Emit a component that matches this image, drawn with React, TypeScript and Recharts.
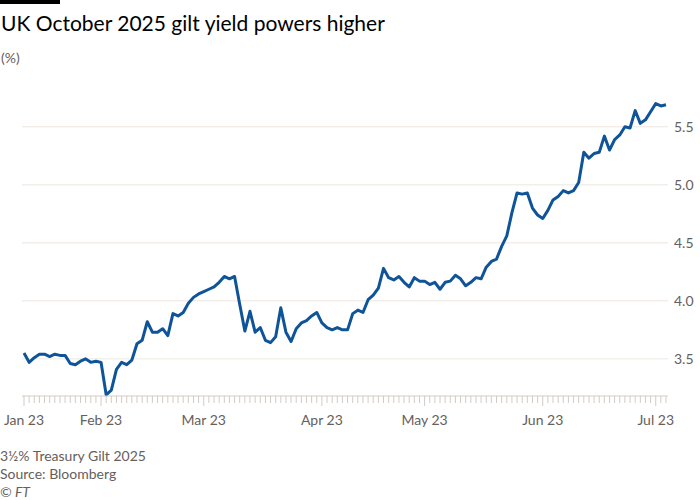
import { LineChart, Line, XAxis, YAxis, CartesianGrid } from 'recharts';

// trading days per month (UK gilt market, 2023)
const monthLabels = ['Jan 23', 'Feb 23', 'Mar 23', 'Apr 23', 'May 23', 'Jun 23', 'Jul 23'];

const tradingDays = [
  [11, 12, 13, 16, 17, 18, 19, 20, 23, 24, 25, 26, 27, 30, 31],
  [1, 2, 3, 6, 7, 8, 9, 10, 13, 14, 15, 16, 17, 20, 21, 22, 23, 24, 27, 28],
  [1, 2, 3, 6, 7, 8, 9, 10, 13, 14, 15, 16, 17, 20, 21, 22, 23, 24, 27, 28, 29, 30, 31],
  [3, 4, 5, 6, 7, 10, 11, 12, 13, 14, 17, 18, 19, 20, 21, 24, 25, 26, 27, 28],
  [1, 2, 3, 4, 5, 8, 9, 10, 11, 12, 15, 16, 17, 18, 19, 22, 23, 24, 25, 26, 29, 30, 31],
  [1, 2, 5, 6, 7, 8, 9, 12, 13, 14, 15, 16, 19, 20, 21, 22, 23, 26, 27, 28, 29, 30],
  [3, 4, 5],
];

// yield (%) per trading day, same shape as tradingDays
const yields = [
  [3.55, 3.47, 3.51, 3.54, 3.54, 3.52, 3.54, 3.53, 3.53, 3.46, 3.45, 3.48, 3.5, 3.47, 3.48],
  [3.47, 3.19, 3.23, 3.41, 3.47, 3.45, 3.49, 3.63, 3.66, 3.82, 3.73, 3.73, 3.76, 3.7, 3.89, 3.87, 3.9, 3.98, 4.03, 4.06],
  [4.08, 4.1, 4.12, 4.16, 4.21, 4.19, 4.21, 3.97, 3.74, 3.91, 3.73, 3.77, 3.66, 3.64, 3.69, 3.94, 3.73, 3.65, 3.76, 3.81, 3.83, 3.87, 3.9],
  [3.81, 3.77, 3.75, 3.77, 3.75, 3.75, 3.89, 3.92, 3.9, 4.01, 4.05, 4.11, 4.28, 4.2, 4.18, 4.21, 4.16, 4.12, 4.2, 4.17],
  [4.17, 4.14, 4.16, 4.1, 4.16, 4.17, 4.22, 4.19, 4.13, 4.16, 4.2, 4.19, 4.29, 4.34, 4.36, 4.47, 4.56, 4.76, 4.93, 4.92, 4.93, 4.8, 4.74],
  [4.71, 4.78, 4.87, 4.9, 4.95, 4.93, 4.95, 5.02, 5.28, 5.23, 5.27, 5.28, 5.42, 5.3, 5.39, 5.43, 5.5, 5.49, 5.64, 5.53, 5.56, 5.63],
  [5.7, 5.68, 5.69],
];

const yTicks = [3.5, 4, 4.5, 5, 5.5];

const data = tradingDays.flatMap((days, m) =>
  days.map((d, i) => ({
    date: `${m + 1}-${d}`,
    label: i === 0 ? monthLabels[m] : '',
    value: yields[m][i],
  }))
);

const labelByDate: Record<string, string> = {};
data.forEach((row) => {
  labelByDate[row.date] = row.label;
});

const grey = '#66605c';
const font = 'Lato, "Open Sans", sans-serif';

function DayTick(props: any) {
  const { x, y, payload } = props;
  const label = labelByDate[payload.value];
  return (
    <g>
      <line x1={x} x2={x} y1={y} y2={y + (label ? 10 : 7)} stroke="#d4cbc3" strokeWidth={1} />
      {label && (
        <text x={x} y={y + 29} textAnchor="middle" fill={grey} fontSize={14} fontFamily={font}>
          {label}
        </text>
      )}
    </g>
  );
}

export default function App() {
  return (
    <div style={{ position: 'absolute', left: 0, top: 0, width: 700, height: 500, background: '#fff', fontFamily: font }}>
      <div style={{ position: 'absolute', left: 0, top: 0, width: 60, height: 4, background: '#000' }} />
      <div style={{ position: 'absolute', left: 1, top: 10, fontSize: 21, lineHeight: '25px', color: '#000', whiteSpace: 'nowrap' }}>
        UK October 2025 gilt yield powers higher
      </div>
      <div style={{ position: 'absolute', left: 1, top: 49, fontSize: 14, lineHeight: '17px', color: grey }}>(%)</div>

      <div style={{ position: 'absolute', left: 0, top: 0 }}>
        <LineChart width={700} height={440} data={data} margin={{ top: 92, right: 0, bottom: 0, left: 22 }}>
          <CartesianGrid vertical={false} horizontalValues={yTicks} stroke="#ede6df" />
          <XAxis
            dataKey="date"
            interval={0}
            height={44}
            padding={{ left: 2, right: 2 }}
            tickSize={0}
            tickMargin={0}
            tickLine={false}
            axisLine={{ stroke: '#d4cbc3' }}
            tick={<DayTick />}
          />
          <YAxis
            orientation="right"
            width={32}
            domain={[3.18, 5.8]}
            ticks={yTicks}
            tickFormatter={(v: number) => v.toFixed(1)}
            axisLine={false}
            tickLine={false}
            tickSize={0}
            tickMargin={6}
            tick={{ fill: grey, fontSize: 14, fontFamily: font, textAnchor: 'start' }}
          />
          <Line
            type="linear"
            dataKey="value"
            stroke="#0f5499"
            strokeWidth={3}
            strokeLinejoin="round"
            dot={false}
            isAnimationActive={false}
          />
        </LineChart>
      </div>

      <div style={{ position: 'absolute', left: 0, top: 447, fontSize: 14, lineHeight: '18px', color: grey }}>
        <div>3½% Treasury Gilt 2025</div>
        <div>Source: Bloomberg</div>
        <div style={{ fontStyle: 'italic' }}>© FT</div>
      </div>
    </div>
  );
}
